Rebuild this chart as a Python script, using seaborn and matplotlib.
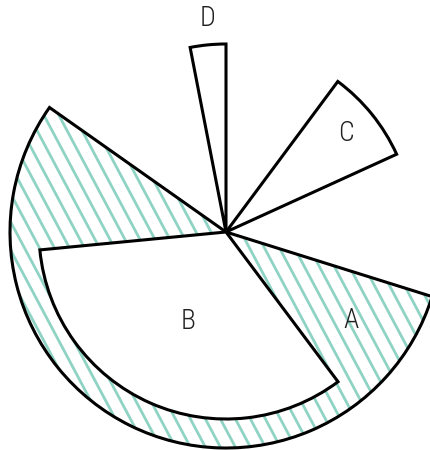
import numpy as np
import pandas as pd
import matplotlib
matplotlib.use("Agg")
import matplotlib.pyplot as plt
from matplotlib.patches import Polygon
import seaborn as sns

sns.set_theme(style="white")
plt.rcParams['font.family'] = ['Roboto Condensed', 'DejaVu Sans']

# slices: start / end angle (deg, clockwise from 12 o'clock), radius
categories = ["A", "B", "C", "D"]
start_deg = [107.4, 143.2, 36.6, 349.0]
end_deg = [143.2, 264.5, 65.5, 360.0]
radius = [216, 187, 187.5, 188]

# hatched wedge behind A / B
hatch_start, hatch_end, hatch_r = 107.4, 305.2, 216

# label positions (angle deg, radius)
label_deg = [125.3, 202.8, 50.7, 355.0]
label_r = [153, 97, 155, 214]

df = pd.DataFrame({"cat": categories, "start": start_deg, "end": end_deg, "r": radius})

fig = plt.figure(figsize=(4.31, 4.5), dpi=100)
R = 230
cx, cy = 226, 232
ax = fig.add_axes([(cx - R) / 431, (450 - cy - R) / 450, 2 * R / 431, 2 * R / 450],
                  projection="polar")
ax.set_theta_zero_location("N")
ax.set_theta_direction(-1)
ax.set_ylim(0, R)
ax.set_axis_off()

teal = "#8fd3c4"
lw = 2.2

# clip shape for the hatching
arc = np.deg2rad(np.linspace(hatch_start, hatch_end, 300))
clip_pts = np.vstack([[arc[0], 0]] + [[a, hatch_r] for a in arc] + [[arc[-1], 0]])
clip = Polygon(clip_pts, closed=True, transform=ax.transData, facecolor="none", edgecolor="none")
ax.add_patch(clip)

# hatch lines (steep diagonal), clipped to the wedge
slope = np.tan(np.deg2rad(62))
t = np.linspace(-1, 1, 400)
for k in np.arange(-40, 40):
    px = k * 15.0 + 260 * t
    py = -260 * slope * t
    ln, = ax.plot(np.arctan2(px, py), np.hypot(px, py), color=teal, lw=2.0, zorder=2.5)
    ln.set_clip_path(clip)

ax.bar(np.deg2rad(hatch_start), hatch_r, width=np.deg2rad(hatch_end - hatch_start),
       align="edge", facecolor="none", edgecolor="black", linewidth=lw, zorder=3)

for _, row in df.iterrows():
    if row["cat"] == "A":
        continue
    ax.bar(np.deg2rad(row["start"]), row["r"], width=np.deg2rad(row["end"] - row["start"]),
           align="edge", color="white", edgecolor="black", linewidth=lw, zorder=4)

for c, d, r in zip(categories, label_deg, label_r):
    ax.text(np.deg2rad(d), r, c, ha="center", va="center", fontsize=20,
            fontweight=300, color="#222222", zorder=5)

fig.savefig("out.png", dpi=100)
